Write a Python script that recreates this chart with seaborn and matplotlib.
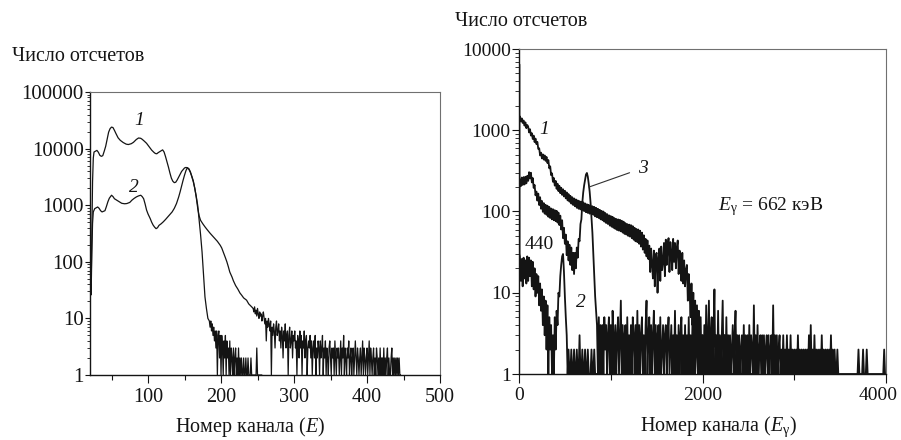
import numpy as np
import pandas as pd
import matplotlib
matplotlib.use("Agg")
import matplotlib.pyplot as plt
import matplotlib.transforms as mtransforms
import seaborn as sns
from matplotlib.ticker import FixedLocator, FixedFormatter, LogLocator, NullFormatter

# ---------------- left panel: counts vs channel number E ----------------
# curve 1, smooth part (channel, counts)
left1_channels = [20, 21, 22, 23, 24, 25, 26, 28, 30, 32, 34, 36, 38, 40, 42, 44, 46, 48, 50,
                  52, 54, 56, 59, 62, 66, 70, 73, 77, 80, 84, 87, 90, 92, 95, 98, 101, 105,
                  108, 110, 112, 114, 117, 120, 122, 124, 126, 128, 130, 132, 134, 136, 138,
                  140, 142, 144, 146, 148, 150, 152, 154, 156, 158, 160, 162, 164, 166, 168,
                  170, 172, 175, 178, 181, 185, 188, 192, 195, 199, 201, 203, 206, 208, 210,
                  212, 215, 217, 220, 223, 226, 228, 231, 235, 238, 240, 242]
left1_counts = [18, 42, 32, 260, 2600, 6800, 8700, 9000, 9300, 8600, 7600, 7300, 7500, 9000,
                11000, 14500, 19500, 22500, 24000, 23500, 21000, 18500, 15500, 14000, 12800,
                12000, 11800, 12200, 12900, 14500, 15400, 15200, 14600, 13500, 12400, 11000,
                9400, 8600, 8200, 8100, 8500, 9000, 9500, 8700, 7200, 5800, 4700, 3700, 3000,
                2650, 2500, 2550, 2800, 3150, 3550, 3950, 4250, 4550, 4650, 4550, 4300, 3800,
                3250, 2700, 2000, 1400, 900, 650, 540, 470, 415, 370, 320, 290, 255, 230, 195,
                175, 150, 118, 100, 82, 66, 54, 46, 38, 33, 28, 26, 23, 21, 18, 17, 16]
# curve 1, tail counted channel by channel from channel 244
left1_tail_start = 244
left1_tail_counts = [15, 13, 16, 12, 14, 11, 15, 12, 10, 13, 11, 12, 9, 11, 13, 10, 8,
                     10, 4, 9, 7, 10, 8, 6, 9, 1, 7, 5, 8, 6, 3, 7, 9, 5, 6, 8, 4,
                     6, 3, 7, 5, 2, 6, 4, 8, 3, 5, 6, 1, 5, 7, 3, 4, 6, 2, 5, 4,
                     6, 3, 4, 1, 5, 4, 2, 6, 3, 5, 1, 4, 3, 6, 2, 4, 5, 1, 3, 4,
                     3, 5, 2, 4, 1, 3, 4, 2, 5, 1, 3, 2, 4, 3, 1, 4, 2, 3, 5, 1,
                     3, 2, 4, 1, 3, 2, 1, 3, 4, 2, 1, 3, 2, 3, 1, 4, 2, 1, 3, 2,
                     3, 1, 2, 4, 1, 3, 2, 5, 1, 3, 2, 1, 3, 2, 4, 1, 2, 3, 1, 2,
                     3, 1, 2, 4, 2, 1, 3, 2, 1, 2, 3, 1, 2, 4, 1, 3, 2, 1, 2, 3,
                     1, 2, 4, 1, 3, 2, 1, 2, 3, 1, 2, 1, 3, 2, 1, 2, 1, 3, 1, 2,
                     2, 1, 3, 1, 2, 1, 2, 3, 1, 2, 1, 1, 2, 3, 1, 2, 1, 2, 1, 2,
                     1, 2, 1, 2, 1, 1]

# curve 2, smooth part
left2_channels = [20, 21, 22, 23, 24, 25, 27, 29, 31, 33, 35, 37, 39, 41, 43, 45, 47, 50, 52,
                  54, 57, 60, 64, 68, 71, 75, 78, 81, 84, 87, 90, 92, 94, 96, 98, 100, 103,
                  105, 107, 109, 111, 113, 115, 118, 121, 124, 127, 130, 133, 136, 139, 142,
                  144, 146, 148, 150, 152, 154, 156, 158, 160, 162, 164, 166, 168, 170, 172,
                  174, 176, 178, 180, 182]
left2_counts = [15, 36, 26, 140, 480, 760, 870, 900, 930, 880, 800, 760, 780, 800, 950, 1150,
                1330, 1500, 1420, 1300, 1230, 1160, 1080, 1060, 1070, 1120, 1230, 1320, 1400,
                1460, 1500, 1420, 1300, 1050, 820, 700, 580, 500, 445, 410, 385, 400, 440,
                470, 510, 560, 620, 690, 760, 880, 1070, 1400, 1730, 2200, 2750, 3400, 4100,
                4600, 4400, 3900, 3200, 2600, 2000, 1450, 1000, 560, 300, 150, 60, 24, 15, 10]
left2_tail_start = 184
left2_tail_counts = [9, 7, 9, 6, 8, 5, 7, 4, 6, 3, 6, 1, 5, 6, 2, 5, 1, 5, 3, 1, 4, 2, 5, 1,
                     4, 2, 3, 1, 4, 1, 3, 2, 1, 3, 1, 2, 3, 1, 2, 1, 3, 1, 2, 1, 2, 1, 1, 2,
                     1, 1, 2, 1, 1, 2, 1, 1, 1, 2, 1, 1, 1, 1, 1, 1, 1, 3, 1, 1, 1, 1, 1, 1, 1]

left_yticks = [1, 10, 100, 1000, 10000, 100000]
left_xticks = [100, 200, 300, 400, 500]
left_xminor = [50, 150, 250, 350, 450]

# ---------------- right panel: counts vs channel number E_gamma ----------------
right_step = 10
# curve 1, channels 0..3990
right1_counts = [
    1380, 1480, 1280, 1400, 1230, 1320, 1140, 1250, 1060, 1160,
    1110, 940, 1030, 860, 920, 780, 860, 715, 790, 675,
    720, 590, 600, 490, 530, 450, 505, 435, 490, 420,
    470, 395, 430, 340, 360, 280, 295, 232, 258, 208,
    238, 190, 220, 178, 207, 168, 196, 160, 188, 153,
    180, 145, 172, 137, 164, 132, 156, 125, 150, 120,
    145, 116, 141, 111, 137, 108, 134, 106, 132, 104,
    130, 101, 126, 98, 123, 96, 121, 94, 118, 93,
    116, 91, 114, 87, 111, 85, 108, 83, 105, 80,
    102, 78, 100, 75, 96, 72, 93, 70, 90, 67,
    88, 65, 86, 63, 83, 61, 81, 59, 80, 58,
    79, 57, 77, 55, 75, 53, 72, 52, 70, 50,
    69, 49, 68, 47, 66, 45, 63, 43, 61, 42,
    60, 40, 58, 37, 55, 34, 51, 31, 46, 28,
    44, 26, 38, 18, 35, 22, 15, 33, 12, 29,
    31, 10, 26, 35, 14, 37, 19, 24, 41, 16,
    45, 22, 38, 47, 18, 42, 30, 19, 46, 24,
    41, 20, 36, 44, 17, 33, 25, 14, 31, 13,
    25, 12, 19, 22, 8, 17, 10, 5, 13, 4,
    10, 3, 8, 2, 7, 2, 6, 1, 5, 1,
    3, 1, 4, 1, 7, 1, 3, 8, 1, 3,
    5, 1, 3, 11, 1, 3, 1, 6, 1, 3,
    1, 3, 8, 1, 3, 1, 5, 1, 3, 1,
    3, 1, 2, 4, 1, 3, 6, 1, 3, 1,
    3, 1, 2, 3, 1, 4, 1, 3, 1, 3,
    1, 4, 1, 3, 2, 1, 7, 1, 3, 1,
    4, 1, 2, 3, 1, 3, 1, 3, 1, 2,
    3, 1, 3, 1, 2, 3, 1, 7, 1, 3,
    1, 3, 1, 2, 3, 1, 2, 1, 3, 1,
    2, 1, 3, 1, 2, 1, 3, 1, 2, 1,
    2, 1, 2, 1, 3, 1, 2, 1, 2, 1,
    2, 1, 2, 1, 2, 1, 3, 1, 4, 1,
    2, 1, 3, 1, 2, 1, 2, 1, 2, 1,
    3, 1, 2, 1, 2, 1, 2, 1, 2, 1,
    3, 1, 2, 1, 2, 1, 1, 2, 1, 1,
    1, 1, 1, 1, 1, 1, 1, 1, 1, 1,
    1, 1, 1, 1, 1, 1, 1, 1, 1, 1,
    2, 1, 1, 1, 1, 2, 1, 1, 1, 2,
    1, 1, 1, 1, 1, 1, 1, 1, 1, 1,
    1, 1, 1, 1, 1, 1, 1, 1, 2, 1]

# curve with the 662 keV photopeak, channels 0..2590
right3_counts = [
    180, 250, 205, 262, 212, 265, 215, 268, 222, 275,
    238, 305, 255, 300, 228, 258, 195, 212, 158, 176,
    136, 166, 120, 150, 108, 135, 99, 127, 94, 121,
    91, 118, 86, 114, 83, 109, 80, 107, 78, 104,
    76, 102, 73, 97, 68, 89, 60, 78, 47, 63,
    40, 52, 29, 43, 25, 39, 22, 36, 19, 31,
    17, 31, 20, 36, 27, 46, 43, 70, 80, 128,
    172, 210, 245, 285, 298, 268, 220, 176, 128, 82,
    55, 30, 16, 9, 6, 4, 1, 5, 1, 4,
    1, 4, 1, 5, 2, 4, 1, 3, 5, 1,
    4, 1, 6, 3, 1, 4, 1, 3, 5, 1,
    3, 8, 1, 4, 1, 3, 4, 1, 5, 1,
    3, 1, 4, 1, 5, 3, 1, 4, 1, 6,
    1, 4, 1, 3, 5, 1, 3, 1, 4, 8,
    1, 3, 5, 1, 4, 1, 3, 6, 1, 4,
    1, 3, 4, 1, 5, 1, 2, 4, 1, 3,
    4, 1, 3, 5, 1, 2, 4, 1, 3, 1,
    6, 1, 3, 1, 4, 1, 3, 5, 1, 3,
    1, 4, 1, 3, 1, 5, 1, 3, 1, 4,
    1, 3, 1, 2, 4, 1, 3, 1, 2, 1,
    3, 1, 2, 1, 3, 1, 2, 1, 1, 2,
    1, 3, 1, 1, 2, 1, 1, 2, 1, 1,
    1, 2, 1, 1, 3, 1, 1, 1, 2, 1,
    2, 1, 1, 1, 1, 3, 1, 1, 2, 1,
    1, 2, 1, 1, 1, 1, 1, 1, 1, 2,
    1, 1, 1, 1, 1, 1, 1, 1, 1, 1]

# curve 2: narrow spike at the first channels, then channels 10..850
right2_spike_channels = [0, 3, 6]
right2_spike_counts = [2, 6500, 30]
right2_start = 10
right2_counts = [
    28, 14, 26, 12, 27, 15, 25, 13, 28,
    14, 27, 16, 25, 12, 24, 11, 20, 9, 17,
    10, 16, 7, 13, 6, 11, 4, 9, 3, 8,
    2, 7, 1, 5, 2, 4, 1, 3, 1, 5,
    2, 6, 4, 10, 9, 16, 22, 28, 30, 18,
    9, 5, 3, 1, 2, 1, 1, 2, 1, 1,
    2, 1, 1, 2, 1, 1, 3, 1, 1, 2,
    1, 1, 2, 1, 1, 2, 1, 1, 1, 2,
    1, 1, 2, 1, 1, 1]

right_yticks = [1, 10, 100, 1000, 10000]
right_xticks = [0, 2000, 4000]
right_xminor = [1000, 3000]


def spectrum(channels, counts):
    return pd.DataFrame({"channel": np.asarray(channels, dtype=float),
                         "counts": np.asarray(counts, dtype=float)})


def regular(start, step, counts):
    return np.arange(len(counts)) * step + start


left_curves = [
    spectrum(left1_channels + list(regular(left1_tail_start, 1, left1_tail_counts)),
             left1_counts + left1_tail_counts),
    spectrum(left2_channels + list(regular(left2_tail_start, 1, left2_tail_counts)),
             left2_counts + left2_tail_counts),
]
right_curves = [
    spectrum(regular(0, right_step, right1_counts), right1_counts),
    spectrum(regular(0, right_step, right3_counts), right3_counts),
    spectrum(right2_spike_channels + list(regular(right2_start, right_step, right2_counts)),
             right2_spike_counts + right2_counts),
]

sns.set_theme(style="ticks")
plt.rcParams["font.family"] = ["Liberation Serif", "DejaVu Serif"]
plt.rcParams["mathtext.fontset"] = "custom"
plt.rcParams["mathtext.rm"] = "Liberation Serif"
plt.rcParams["mathtext.it"] = "Liberation Serif:italic"
plt.rcParams["mathtext.bf"] = "Liberation Serif:bold"

INK = "#141414"
fig = plt.figure(figsize=(9.01, 4.40), dpi=100)
fig.patch.set_facecolor("white")
axL = fig.add_axes([90 / 901, 1 - 375 / 440, 350 / 901, 283 / 440])
axR = fig.add_axes([519 / 901, 1 - 374 / 440, 367 / 901, 325 / 440])

for df in left_curves:
    sns.lineplot(data=df, x="channel", y="counts", ax=axL, color=INK, lw=0.9,
                 estimator=None, sort=False)
for df in right_curves:
    sns.lineplot(data=df, x="channel", y="counts", ax=axR, color=INK, lw=1.3,
                 estimator=None, sort=False)


def style_axes(ax, xlim, ylim, yticks, xticks, xminor, ysize, xsize,
               ymaj, ymin, xmaj, xmin, xpad):
    ax.set_yscale("log")
    ax.set_xlim(*xlim)
    ax.set_ylim(*ylim)
    ax.yaxis.set_major_locator(FixedLocator(yticks))
    ax.yaxis.set_major_formatter(FixedFormatter([str(t) for t in yticks]))
    ax.yaxis.set_minor_locator(LogLocator(base=10, subs=np.arange(2, 10), numticks=30))
    ax.yaxis.set_minor_formatter(NullFormatter())
    ax.xaxis.set_major_locator(FixedLocator(xticks))
    ax.xaxis.set_major_formatter(FixedFormatter([str(t) for t in xticks]))
    ax.xaxis.set_minor_locator(FixedLocator(xminor))
    ax.set_xlabel("")
    ax.set_ylabel("")
    ax.grid(False)
    ax.set_facecolor("white")
    ax.tick_params(axis="y", which="major", direction="out", length=ymaj, width=0.8,
                   pad=1.0, labelsize=ysize, colors=INK)
    ax.tick_params(axis="y", which="minor", direction="out", length=ymin, width=0.6,
                   colors=INK)
    ax.tick_params(axis="x", which="major", direction="out", length=xmaj, width=0.8,
                   pad=xpad, labelsize=xsize, colors=INK)
    ax.tick_params(axis="x", which="minor", direction="out", length=xmin, width=0.8,
                   colors=INK)
    for side in ("left", "bottom"):
        ax.spines[side].set_color(INK)
        ax.spines[side].set_linewidth(1.0)
    for side in ("top", "right"):
        ax.spines[side].set_visible(True)
        ax.spines[side].set_color("#707070")
        ax.spines[side].set_linewidth(0.8)


style_axes(axL, (20.5, 500), (1, 100000), left_yticks, left_xticks, left_xminor,
           15, 14.5, 3.6, 2.2, 5.5, 3.5, 3.5)
style_axes(axR, (0, 4000), (1, 10000), right_yticks, right_xticks, right_xminor,
           14, 14, 5.0, 2.6, 6.5, 4.3, 3.0)

# keep the last channel label inside the figure
last_tick = axR.xaxis.get_major_ticks()[-1].label1
last_tick.set_transform(last_tick.get_transform()
                        + mtransforms.ScaledTranslation(-8 / 100, 0, fig.dpi_scale_trans))

# axis titles
fig.text(12 / 901, 1 - 61 / 440, "Число отсчетов", ha="left", va="baseline",
         fontsize=14.5, color=INK)
fig.text(455 / 901, 1 - 26 / 440, "Число отсчетов", ha="left", va="baseline",
         fontsize=14.5, color=INK)
fig.text(250 / 901, 1 - 432 / 440, "Номер канала ($E$)", ha="center", va="baseline",
         fontsize=14.5, color=INK)
fig.text(719 / 901, 1 - 431 / 440, r"Номер канала ($E_{\mathrm{\gamma}}$)", ha="center",
         va="baseline", fontsize=14.5, color=INK)

# curve labels
axL.text(88, 31400, "1", ha="center", va="center", fontsize=14, fontstyle="italic", color=INK)
axL.text(81, 2070, "2", ha="center", va="center", fontsize=14, fontstyle="italic", color=INK)
axR.text(272, 1036, "1", ha="center", va="center", fontsize=14, fontstyle="italic", color=INK)
axR.text(676, 7.5, "2", ha="center", va="center", fontsize=14, fontstyle="italic", color=INK)
axR.annotate("3", xy=(763, 200), xytext=(1351, 343), textcoords="data", ha="center",
             va="center", fontsize=14, fontstyle="italic", color=INK,
             arrowprops=dict(arrowstyle="-", color="#303030", lw=0.8, shrinkA=4, shrinkB=0))
axR.text(218, 38.7, "440", ha="center", va="center", fontsize=14, color=INK)
axR.text(2169, 104, r"$E_{\mathrm{\gamma}}$ = 662 кэВ", ha="left", va="baseline",
         fontsize=14, color=INK)

fig.savefig("out.png", dpi=100, facecolor="white")
